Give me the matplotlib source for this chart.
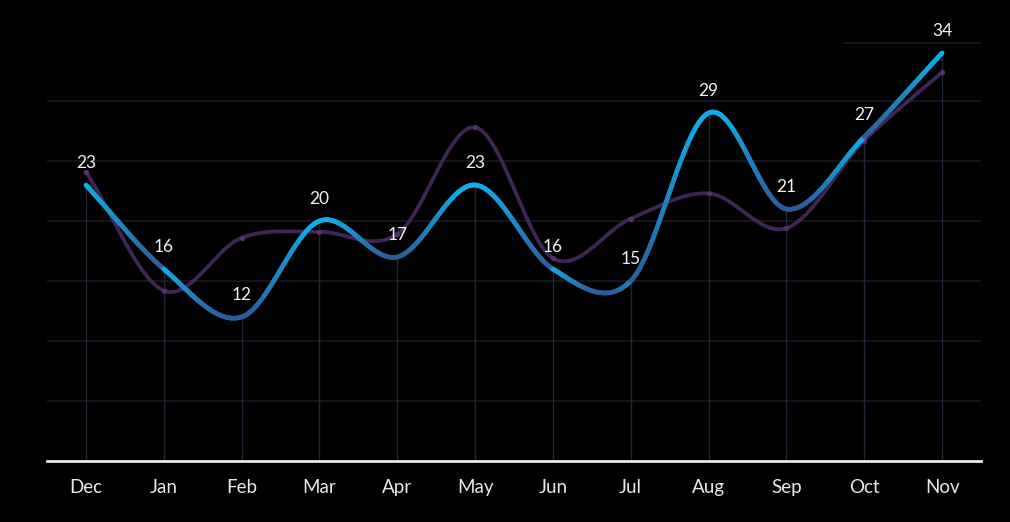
import numpy as np
import matplotlib.pyplot as plt
from matplotlib.collections import LineCollection
from matplotlib.colors import to_rgb

months = ['Dec', 'Jan', 'Feb', 'Mar', 'Apr', 'May', 'Jun', 'Jul', 'Aug', 'Sep', 'Oct', 'Nov']
current = [23, 16, 12, 20, 17, 23, 16, 15, 29, 21, 27, 34]
previous = [24.1, 14.2, 18.6, 19.1, 18.9, 27.8, 16.9, 20.2, 22.3, 19.4, 26.7, 32.4]

BRIGHT = np.array(to_rgb('#0cb0ea'))
DARK = np.array(to_rgb('#2b5d9b'))
PURPLE = '#3f2656'


def catmull_rom(y, n=60):
    # smooth curve through the points, one chunk per segment
    y = np.asarray(y, dtype=float)
    m = np.empty_like(y)
    m[1:-1] = (y[2:] - y[:-2]) / 2
    m[0] = y[1] - y[0]
    m[-1] = y[-1] - y[-2]
    t = np.linspace(0, 1, n)
    h00 = 2 * t**3 - 3 * t**2 + 1
    h10 = t**3 - 2 * t**2 + t
    h01 = -2 * t**3 + 3 * t**2
    h11 = t**3 - t**2
    segs = []
    for i in range(len(y) - 1):
        xs = i + t
        ys = h00 * y[i] + h10 * m[i] + h01 * y[i + 1] + h11 * m[i + 1]
        segs.append((xs, ys))
    return segs


fig = plt.figure(figsize=(10.1, 5.22), dpi=100, facecolor='black')
ax = fig.add_axes([47 / 1010, 61 / 522, 934 / 1010, 461 / 522])
ax.set_facecolor('black')
x = np.arange(len(months))

# grid
for g in [5, 10, 15, 20, 25, 30]:
    ax.axhline(g, color='#17171d', lw=1.3, zorder=0)
ax.axhline(34.8, xmin=0.853, color='#17171d', lw=1.3, zorder=0)
ax.vlines(x, 0, current, color='#26263a', lw=1, zorder=1)

# previous series
segs = catmull_rom(previous)
px = np.concatenate([s[0] for s in segs])
py = np.concatenate([s[1] for s in segs])
ax.plot(px, py, color=PURPLE, lw=2.7, solid_capstyle='round', zorder=2)
ax.scatter(x, previous, s=14, color='#573272', zorder=3, linewidths=0)

# current series with per-segment vertical gradient
lines, cols = [], []
for xs, ys in catmull_rom(current):
    lo, hi = ys.min(), ys.max()
    pts = np.column_stack([xs, ys])
    for k in range(len(xs) - 1):
        lines.append(pts[k:k + 2])
        ym = (ys[k] + ys[k + 1]) / 2
        f = (ym - lo) / (hi - lo) if hi > lo else 1
        cols.append(DARK + (BRIGHT - DARK) * f)
lc = LineCollection(lines, colors=cols, linewidths=3.4, capstyle='round', zorder=4)
ax.add_collection(lc)

for xi, v in zip(x, current):
    ax.annotate(str(v), (xi, v), xytext=(0, 16), textcoords='offset points',
                ha='center', va='center', color='#f2f2f2', fontsize=12.5,
                family='Lato', zorder=5)

ax.set_xlim(-0.5, 11.5)
ax.set_ylim(0, 461 / 12)
ax.set_xticks(x)
ax.set_xticklabels(months)
ax.set_yticks([])
for s in ['top', 'right', 'left']:
    ax.spines[s].set_visible(False)
ax.spines['bottom'].set_color('#e8e8e8')
ax.spines['bottom'].set_linewidth(2)
ax.tick_params(axis='x', length=0, pad=13, colors='#e8e8e8', labelsize=13.5)
for lbl in ax.get_xticklabels():
    lbl.set_family('Lato')

fig.savefig('out.png', dpi=100, facecolor='black')
